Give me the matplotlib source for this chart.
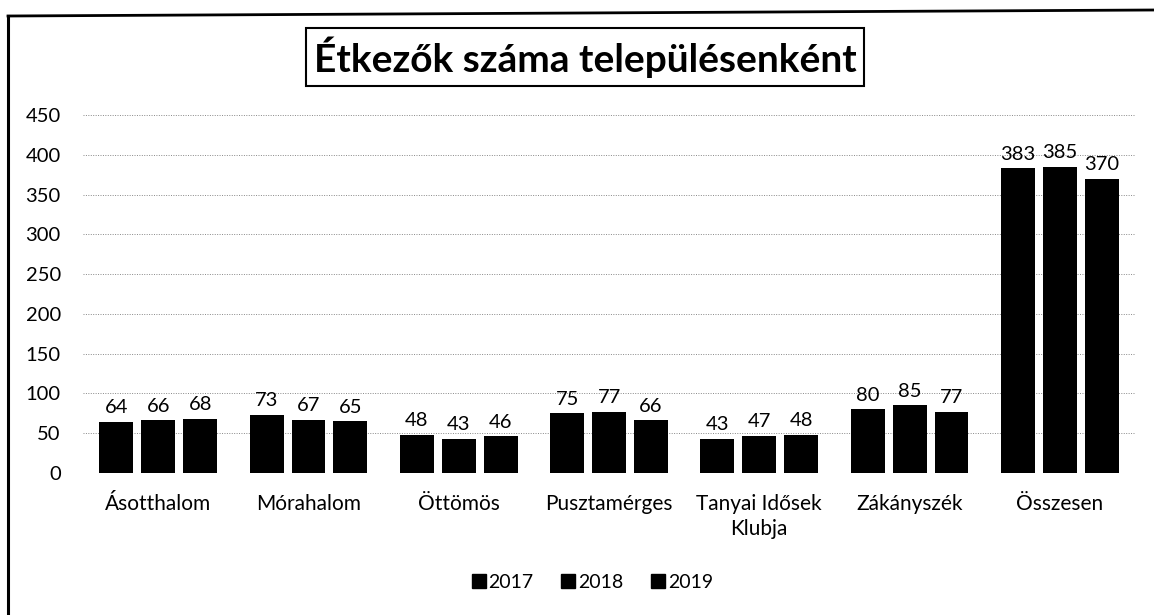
import numpy as np
import matplotlib.pyplot as plt
from matplotlib.lines import Line2D

plt.rcParams['font.family'] = ['Lato', 'DejaVu Sans']

categories = ['Ásotthalom', 'Mórahalom', 'Öttömös', 'Pusztamérges',
              'Tanyai Idősek\nKlubja', 'Zákányszék', 'Összesen']
years = ['2017', '2018', '2019']
v2017 = [64, 73, 48, 75, 43, 80, 383]
v2018 = [66, 67, 43, 77, 47, 85, 385]
v2019 = [68, 65, 46, 66, 48, 77, 370]

fig = plt.figure(figsize=(11.54, 6.15), dpi=100)
ax = fig.add_axes([0.072, 0.231, 0.9115, 0.582])

x = np.arange(len(categories))
w = 0.226
step = 0.279
for i, (vals, yr) in enumerate(zip([v2017, v2018, v2019], years)):
    bars = ax.bar(x + (i - 1) * step, vals, w, color='black', label=yr, zorder=3)
    for b, v in zip(bars, vals):
        ax.annotate(str(v), (b.get_x() + b.get_width() / 2, v), xytext=(0, 4),
                    textcoords='offset points', ha='center', va='bottom',
                    fontsize=14.5, color='black', zorder=4)

ax.set_ylim(0, 450)
ax.set_xlim(-0.5, len(categories) - 0.5)
ax.set_yticks(range(0, 451, 50))
ax.set_xticks(x)
ax.set_xticklabels(categories, fontsize=15, linespacing=1.3)
ax.tick_params(axis='y', labelsize=14.5, length=0, pad=16)
ax.tick_params(axis='x', length=0, pad=15)
ax.yaxis.grid(True, linestyle=(0, (1, 1.5)), color='#888888', linewidth=0.7, zorder=0)
for s in ax.spines.values():
    s.set_visible(False)

fig.text(0.507, 1 - 57 / 615, 'Étkezők száma településenként', ha='center', va='center',
         fontsize=28, fontweight='bold',
         bbox=dict(boxstyle='square,pad=0.2', facecolor='white', edgecolor='black', linewidth=1.5))

handles = [Line2D([], [], marker='s', linestyle='none', color='black', markersize=10) for _ in years]
fig.legend(handles, years, loc='center', bbox_to_anchor=(0.513, 1 - 582 / 615), ncol=3,
           frameon=False, fontsize=14, handletextpad=0.1, columnspacing=1.4, handlelength=0.8)

# outer frame (left and top edges of the scanned chart border)
fig.add_artist(Line2D([8 / 1154, 8 / 1154], [0, 1 - 16 / 615], color='black', linewidth=2.2))
fig.add_artist(Line2D([8 / 1154, 1], [1 - 16 / 615, 1 - 10 / 615], color='black', linewidth=2.0))

fig.savefig('out.png', dpi=100)
